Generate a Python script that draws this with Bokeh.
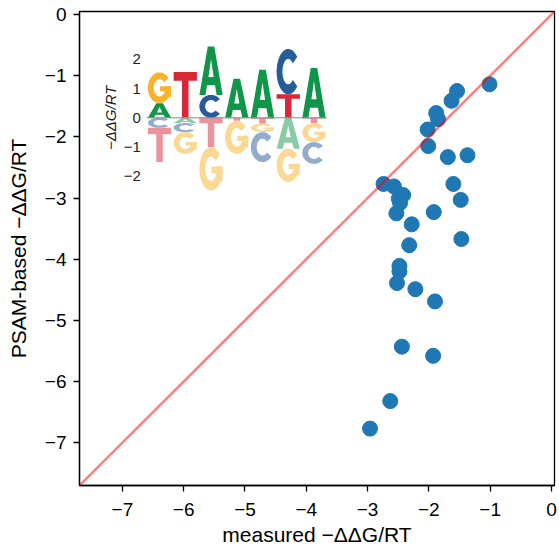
import numpy as np
from bokeh.plotting import figure
from bokeh.models import Range1d, Slope, FixedTicker, CustomJSTickFormatter
from bokeh.embed import file_html
from bokeh.resources import INLINE
from bokeh.core.properties import value

# ---------------- data ----------------
measured = [-1.01, -1.54, -1.63, -1.88, -1.85, -2.02, -2.01, -1.69, -1.37, -2.74,
            -2.57, -1.60, -2.42, -2.49, -2.47, -1.48, -2.53, -1.92, -2.28, -1.47,
            -2.32, -2.48, -2.48, -2.52, -2.22, -1.90, -2.44, -1.93, -2.63, -2.96]
psam = [-1.14, -1.25, -1.41, -1.61, -1.71, -1.88, -2.15, -2.33, -2.30, -2.77,
        -2.81, -2.77, -2.95, -3.01, -3.08, -3.03, -3.25, -3.23, -3.43, -3.67,
        -3.77, -4.11, -4.20, -4.39, -4.49, -4.69, -5.43, -5.58, -6.32, -6.77]

axis_ticks = [-7, -6, -5, -4, -3, -2, -1, 0]
axis_limits = (-7.7, 0.05)

# sequence logo (energy matrix), one value per position
logo_letters = ["A", "C", "G", "T"]
logo_A = [0.50, -0.18, 1.65, 1.33, 1.64, -1.06, 1.70]
logo_C = [-0.34, -0.31, 0.78, 0.00, -1.02, 1.55, -0.74]
logo_G = [1.05, -0.74, -1.48, -1.13, -0.29, -1.13, -0.65]
logo_T = [-1.17, 1.56, -1.00, -0.10, -0.20, 0.80, -0.18]
logo_ticks = [2, 1, 0, -1, -2]

# ---------------- style / layout ----------------
FONT = "Liberation Sans"
full_col = {"A": "#109648", "C": "#255C99", "G": "#F7B32B", "T": "#D62839"}
faded_col = {"A": "#88CBA4", "C": "#92ADCC", "G": "#FBD995", "T": "#EA939C"}

# inset placement, in main-axes data units
LOGO_X0 = -6.394   # centre of first logo column
LOGO_DX = 0.420    # column spacing
LOGO_W = 0.38      # letter width
LOGO_Y0 = -1.688   # logo zero line
LOGO_SY = 0.479    # main units per logo unit
LOGO_TICK_X = -6.70
LOGO_LABEL_X = -7.19


def arc_ring(a0, a1, ro=(0.5, 0.5), ri=(0.25, 0.28), n=48):
    t = np.radians(np.linspace(a0, a1, n))
    xo = 0.5 + ro[0] * np.cos(t)
    yo = 0.5 + ro[1] * np.sin(t)
    xi = 0.5 + ri[0] * np.cos(t[::-1])
    yi = 0.5 + ri[1] * np.sin(t[::-1])
    return list(np.concatenate([xo, xi])), list(np.concatenate([yo, yi]))


def letter_shape(ch):
    """separate polygons (each a list of rings) of a letter inside the unit box"""
    if ch == "T":
        return [[([0, 1, 1, 0.64, 0.64, 0.36, 0.36, 0],
                  [1, 1, 0.81, 0.81, 0, 0, 0.81, 0.81])]]
    if ch == "A":
        outer = ([0, 0.26, 0.33, 0.67, 0.74, 1, 0.64, 0.36],
                 [0, 0, 0.2, 0.2, 0, 0, 1, 1])
        hole = ([0.39, 0.61, 0.5], [0.37, 0.37, 0.74])
        return [[outer, hole]]
    if ch == "C":
        return [[arc_ring(40, 320)]]
    if ch == "G":
        return [[arc_ring(40, 352)],
                [([0.52, 0.99, 0.99, 0.52], [0.39, 0.39, 0.55, 0.55])],
                [([0.76, 0.99, 0.99, 0.76], [0.2, 0.2, 0.55, 0.55])]]


# ---------------- figure ----------------
p = figure(width=559, height=548, output_backend="svg", toolbar_location=None,
           x_range=Range1d(*axis_limits), y_range=Range1d(*axis_limits),
           min_border_left=79, min_border_right=5, min_border_top=11,
           min_border_bottom=63)
p.background_fill_color = "white"
p.border_fill_color = "white"
p.grid.visible = False
p.outline_line_color = "black"
p.outline_line_width = 1.3

fmt = CustomJSTickFormatter(code="return tick < 0 ? '\u2212' + Math.abs(tick) : tick.toString();")
for ax in (p.xaxis[0], p.yaxis[0]):
    ax.ticker = FixedTicker(ticks=axis_ticks)
    ax.formatter = fmt
    ax.minor_tick_line_color = None
    ax.major_tick_in = 0
    ax.major_tick_out = 6
    ax.major_tick_line_width = 1.3
    ax.axis_line_width = 1.3
    ax.axis_line_color = "black"
    ax.major_tick_line_color = "black"
    ax.major_label_text_font = FONT
    ax.major_label_text_font_size = "19px"
    ax.major_label_text_color = "black"
    ax.axis_label_text_font = FONT
    ax.axis_label_text_font_size = "21px"
    ax.axis_label_text_font_style = "normal"
    ax.axis_label_text_color = "black"

p.xaxis.axis_label = "measured \u2212\u0394\u0394G/RT"
p.yaxis.axis_label = "PSAM-based \u2212\u0394\u0394G/RT"
p.xaxis.major_label_standoff = 11
p.yaxis.major_label_standoff = 7
p.xaxis.axis_label_standoff = 4
p.yaxis.axis_label_standoff = 12

# scatter
p.scatter(measured, psam, size=15, color="#1f77b4")

# diagonal
p.add_layout(Slope(gradient=1, y_intercept=0, line_color="red",
                   line_alpha=0.5, line_width=2.5))

# ---------------- sequence logo inset ----------------
logo_vals = {"A": logo_A, "C": logo_C, "G": logo_G, "T": logo_T}
xs, ys, cols = [], [], []
n_pos = len(logo_A)
for i in range(n_pos):
    cx = LOGO_X0 + i * LOGO_DX
    vals = [(logo_vals[c][i], c) for c in logo_letters]
    pos = sorted([v for v in vals if v[0] > 0], key=lambda v: v[0])
    neg = sorted([v for v in vals if v[0] < 0], key=lambda v: -v[0])
    stacks = []
    b = 0.0
    for h, c in pos:
        stacks.append((b, h, c, full_col[c]))
        b += h
    b = 0.0
    for h, c in neg:
        stacks.append((b + h, -h, c, faded_col[c]))
        b += h
    for bottom, height, c, colr in stacks:
        for poly in letter_shape(c):
            px_, py_ = [], []
            for (u, v) in poly:
                px_.append([cx + (uu - 0.5) * LOGO_W for uu in u])
                py_.append([LOGO_Y0 + (bottom + vv * height) * LOGO_SY for vv in v])
            xs.append([px_])
            ys.append([py_])
            cols.append(colr)

p.multi_polygons(xs=xs, ys=ys, fill_color=cols, line_color=None)

# zero line of logo
p.line([LOGO_X0 - LOGO_DX / 2, LOGO_X0 + (n_pos - 0.5) * LOGO_DX], [LOGO_Y0, LOGO_Y0],
       line_color="#888888", line_width=1)

# logo y ticks labels
p.text(x=[LOGO_TICK_X] * len(logo_ticks),
       y=[LOGO_Y0 + t * LOGO_SY for t in logo_ticks],
       text=[("\u2212" + str(abs(t))) if t < 0 else str(t) for t in logo_ticks],
       text_align="right", text_baseline="middle", text_font=value(FONT),
       text_font_size="15px", text_color="#222222")

p.text(x=[LOGO_LABEL_X], y=[LOGO_Y0], text=["\u2212\u0394\u0394G/RT"], angle=np.pi / 2,
       text_align="center", text_baseline="middle", text_font=value(FONT),
       text_font_size="15px", text_font_style="italic", text_color="#222222")

open("out.html", "w").write(file_html(p, INLINE))
